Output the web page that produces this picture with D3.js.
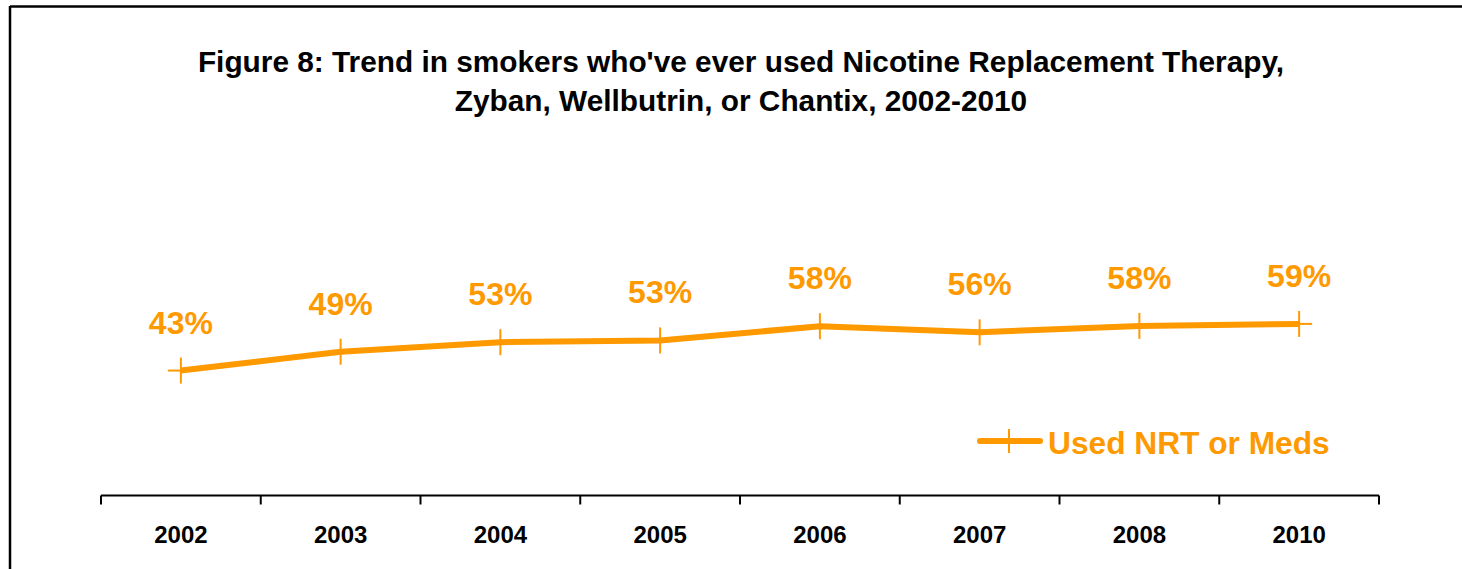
<!DOCTYPE html>
<html>
<head>
<meta charset="utf-8">
<script src="https://cdn.jsdelivr.net/npm/d3@7"></script>
<style>
  html, body { margin: 0; padding: 0; background: #fff; }
  svg { display: block; }
  text { font-family: "Liberation Sans", Arial, sans-serif; font-weight: bold; }
</style>
</head>
<body>
<svg id="chart" width="1462" height="569"></svg>
<script>
// ---- data ----
const years = ["2002", "2003", "2004", "2005", "2006", "2007", "2008", "2010"];
const usedNRT = [42.9, 49.4, 52.7, 53.3, 58.2, 56.1, 58.3, 59.0];
const seriesName = "Used NRT or Meds";
const titleLines = [
  "Figure 8: Trend in smokers who've ever used Nicotine Replacement Therapy,",
  "Zyban, Wellbutrin, or Chantix, 2002-2010"
];

const orange = "#FF9900";
const svg = d3.select("#chart");

// outer frame (left and top edges visible)
svg.append("line").attr("x1", 10).attr("x2", 1462).attr("y1", 6.5).attr("y2", 6.5)
  .attr("stroke", "#000").attr("stroke-width", 2.5);
svg.append("line").attr("x1", 10).attr("x2", 10).attr("y1", 6).attr("y2", 569)
  .attr("stroke", "#000").attr("stroke-width", 2.5);

// title
svg.selectAll("text.title").data(titleLines).join("text")
  .attr("class", "title")
  .attr("x", 741)
  .attr("y", (d, i) => 72 + i * 39)
  .attr("text-anchor", "middle")
  .attr("font-size", 29.8)
  .attr("fill", "#000")
  .text(d => d);

// scales
const x = d3.scaleBand().domain(years).range([101, 1379]);
const y = d3.scaleLinear().domain([0, 100]).range([495, 205]);

// x axis
const xAxis = d3.axisBottom(x).tickSize(0).tickPadding(0);
const gx = svg.append("g").attr("transform", "translate(0,495.5)").call(xAxis);
gx.select(".domain").remove();
gx.append("line").attr("x1", 101).attr("x2", 1379).attr("y1", 0).attr("y2", 0)
  .attr("stroke", "#000").attr("stroke-width", 2);
// tick marks at band boundaries
const bounds = years.map(d => x(d)).concat([x(years[years.length - 1]) + x.bandwidth()]);
gx.selectAll("line.bt").data(bounds).join("line")
  .attr("class", "bt")
  .attr("x1", d => d).attr("x2", d => d)
  .attr("y1", 0).attr("y2", 9)
  .attr("stroke", "#000").attr("stroke-width", 2);
gx.selectAll(".tick text")
  .attr("dy", 0)
  .attr("y", 47)
  .attr("font-size", 24)
  .attr("font-family", "Liberation Sans, Arial, sans-serif")
  .attr("font-weight", "bold")
  .attr("fill", "#000");

// line
const cx = d => x(d) + x.bandwidth() / 2;
const pts = years.map((d, i) => [cx(d), y(usedNRT[i])]);
svg.append("path")
  .attr("d", d3.line()(pts))
  .attr("fill", "none")
  .attr("stroke", orange)
  .attr("stroke-width", 6)
  .attr("stroke-linejoin", "round");

// plus markers
const mk = 13;
const markers = svg.append("g").attr("stroke", orange).attr("stroke-width", 2);
markers.selectAll("line.h").data(pts).join("line")
  .attr("x1", d => d[0] - mk).attr("x2", d => d[0] + mk)
  .attr("y1", d => d[1]).attr("y2", d => d[1]);
markers.selectAll("line.v").data(pts).join("line")
  .attr("x1", d => d[0]).attr("x2", d => d[0])
  .attr("y1", d => d[1] - mk).attr("y2", d => d[1] + mk);

// data labels
svg.selectAll("text.lbl").data(pts).join("text")
  .attr("class", "lbl")
  .attr("x", d => d[0])
  .attr("y", d => d[1] - 37)
  .attr("text-anchor", "middle")
  .attr("font-size", 32)
  .attr("fill", orange)
  .text((d, i) => Math.round(usedNRT[i]) + "%");

// legend
const lg = svg.append("g");
lg.append("line").attr("x1", 980).attr("x2", 1040).attr("y1", 441).attr("y2", 441)
  .attr("stroke", orange).attr("stroke-width", 6).attr("stroke-linecap", "round");
lg.append("line").attr("x1", 1009).attr("x2", 1009).attr("y1", 429).attr("y2", 453)
  .attr("stroke", orange).attr("stroke-width", 2);
lg.append("text").attr("x", 1048).attr("y", 454)
  .attr("font-size", 31.7).attr("fill", orange).text(seriesName);
</script>
</body>
</html>
